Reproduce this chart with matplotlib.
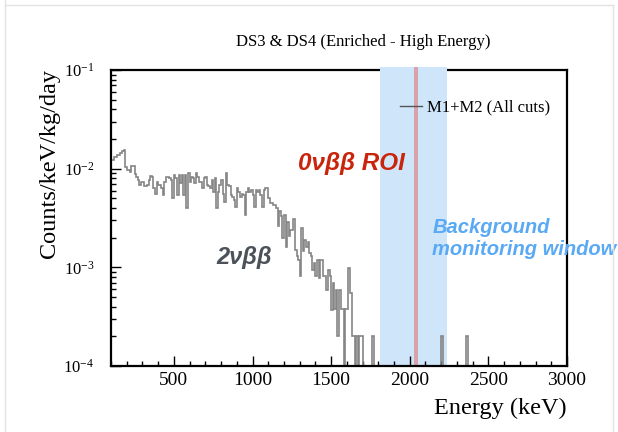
import numpy as np
import matplotlib
matplotlib.use("Agg")
import matplotlib.pyplot as plt
from matplotlib.patches import Rectangle
from matplotlib.ticker import MultipleLocator, LogLocator

plt.rcParams['font.family'] = ['Liberation Serif', 'DejaVu Serif']
plt.rcParams['mathtext.fontset'] = 'custom'
plt.rcParams['mathtext.rm'] = 'Liberation Serif'

# --- data (counts/keV/kg/day in 10 keV bins) ---------------------------------
bin_width = 10
e_min, e_max = 100, 3000

# 100 - 1100 keV
rate_low = [
    1.23e-2, 1.22e-2, 1.32e-2, 1.30e-2, 1.38e-2, 1.36e-2, 1.43e-2, 1.50e-2, 1.55e-2, 1.05e-2,
    9.7e-3, 9.8e-3, 9.3e-3, 1.07e-2, 1.06e-2, 8.8e-3, 8.3e-3, 7.7e-3, 6.8e-3, 7.4e-3,
    7.3e-3, 6.7e-3, 6.7e-3, 6.9e-3, 7.6e-3, 8.5e-3, 8.3e-3, 6.3e-3, 5.6e-3, 7.4e-3,
    6.8e-3, 6.8e-3, 6.3e-3, 5.4e-3, 7.4e-3, 8.3e-3, 8.2e-3, 8.1e-3, 7.7e-3, 5.0e-3,
    8.6e-3, 8.0e-3, 5.4e-3, 8.6e-3, 7.1e-3, 8.6e-3, 5.4e-3, 8.6e-3, 4.0e-3, 9.0e-3,
    7.4e-3, 8.3e-3, 8.0e-3, 7.1e-3, 9.0e-3, 8.3e-3, 7.4e-3, 7.4e-3, 6.3e-3, 8.0e-3,
    8.3e-3, 6.8e-3, 6.6e-3, 6.3e-3, 7.7e-3, 5.8e-3, 8.0e-3, 4.0e-3, 5.8e-3, 6.8e-3,
    7.7e-3, 5.6e-3, 4.6e-3, 9.0e-3, 6.8e-3, 6.6e-3, 5.4e-3, 5.2e-3, 4.8e-3, 4.1e-3,
    6.3e-3, 5.8e-3, 5.2e-3, 5.6e-3, 5.4e-3, 3.4e-3, 5.8e-3, 6.3e-3, 5.8e-3, 6.1e-3,
    5.4e-3, 4.1e-3, 6.1e-3, 5.8e-3, 6.1e-3, 5.4e-3, 4.1e-3, 6.1e-3, 6.3e-3, 6.3e-3,
]

# 1100 - 1770 keV
rate_high = [
    5.0e-3, 4.5e-3, 4.5e-3, 4.3e-3, 4.3e-3, 4.0e-3, 2.6e-3, 3.7e-3, 3.3e-3, 1.96e-3,
    3.4e-3, 1.62e-3, 2.9e-3, 2.1e-3, 2.4e-3, 2.4e-3, 3.1e-3, 1.5e-3, 1.29e-3, 1.19e-3,
    8.1e-4, 2.5e-3, 1.45e-3, 1.9e-3, 1.62e-3, 1.8e-3, 1.39e-3, 1.29e-3, 9.4e-4, 1.1e-3,
    8.1e-4, 1.19e-3, 7.8e-4, 1.19e-3, 1.19e-3, 8.1e-4, 8.1e-4, 5.9e-4, 9.4e-4, 8.1e-4,
    3.7e-4, 6.9e-4, 3.8e-4, 5.9e-4, 2.0e-4, 5.9e-4, 3.8e-4, 3.8e-4, 0, 3.8e-4,
    3.8e-4, 9.8e-4, 5.5e-4, 2.0e-4, 2.0e-4, 0, 2.0e-4, 0, 2.0e-4, 2.0e-4,
    0, 0, 0, 0, 0, 0, 2.0e-4,
]

# isolated events above the continuum
tail_energy = [2200, 2360]
tail_rate = [2.0e-4, 2.0e-4]

bmw_window = (1810, 2235)   # background monitoring window
roi_window = (2030, 2050)   # 0vbb ROI

# --- build histogram -------------------------------------------------------------
edges = np.arange(e_min, e_max + bin_width, bin_width)
rate = np.zeros(len(edges) - 1)
rate[:len(rate_low)] = rate_low
rate[len(rate_low):len(rate_low) + len(rate_high)] = rate_high
for e, r in zip(tail_energy, tail_rate):
    rate[(e - e_min) // bin_width] = r
rate = np.where(rate > 0, rate, 1e-6)

fig = plt.figure(figsize=(6.18, 4.32), dpi=100)
ax = fig.add_axes([111 / 618, 1 - 366 / 432, 456 / 618, 296 / 432])

ax.axvspan(*bmw_window, ymin=0.004, ymax=1, color='#cfe5fa', lw=0, zorder=0.5)
ax.axvspan(*roi_window, ymin=0.004, ymax=1, color='#d8a3a8', lw=0, zorder=0.6)
# band covers the top frame line like in the slide
for (a, b), col in [(bmw_window, '#cfe5fa'), (roi_window, '#d8a3a8')]:
    ax.add_patch(Rectangle((a, 0.99), b - a, 0.02, transform=ax.get_xaxis_transform(),
                           color=col, lw=0, clip_on=False, zorder=3))

ax.stairs(rate, edges, color='#858585', lw=1.2, baseline=None, zorder=2,
          label='M1+M2 (All cuts)')

ax.set_yscale('log')
ax.set_xlim(e_min, e_max)
ax.set_ylim(1e-4, 1e-1)

ax.xaxis.set_major_locator(MultipleLocator(500))
ax.xaxis.set_minor_locator(MultipleLocator(100))
ax.yaxis.set_major_locator(LogLocator(base=10))
ax.yaxis.set_minor_locator(LogLocator(base=10, subs=np.arange(2, 10)))
ax.tick_params(which='both', direction='in', top=False, right=False, width=1)
ax.tick_params(which='major', length=7)
ax.tick_params(which='minor', length=3.5)
ax.tick_params(axis='x', labelsize=14, pad=4)
ax.tick_params(axis='y', labelsize=12, pad=12)
for s in ax.spines.values():
    s.set_linewidth(1.6)

leg = ax.legend(loc='center left', bbox_to_anchor=(0.634, 0.872), frameon=False,
                borderpad=0, borderaxespad=0, handlelength=1.3, handletextpad=0.3,
                fontsize=12)
leg.get_lines()[0].set_color('#555555')
leg.get_lines()[0].set_linewidth(1)

sans = ['Liberation Sans', 'DejaVu Sans']
ax.text(1287, 1.14e-2, '0νββ ROI', color='#c8250c', fontsize=17.5, fontweight='bold',
        fontstyle='italic', family=sans, va='center', ha='left', zorder=4)
ax.text(773, 1.27e-3, '2νββ', color='#4b525a', fontsize=17, fontweight='bold',
        fontstyle='italic', family=sans, va='center', ha='left', zorder=4)
ax.text(2144, 1.94e-3, 'Background\nmonitoring window', color='#5aa9f5', fontsize=14.5,
        fontweight='bold', fontstyle='italic', family=sans, va='center', ha='left',
        linespacing=1.2, zorder=4, clip_on=False)

fig.text(363 / 618, 1 - 42 / 432, 'DS3 & DS4 (Enriched - High Energy)', fontsize=12,
         ha='center', va='center')
fig.text(50 / 618, 1 - 164 / 432, 'Counts/keV/kg/day', fontsize=17.5, rotation=90,
         ha='center', va='center')
fig.text(567 / 618, 1 - 408 / 432, 'Energy (keV)', fontsize=17.5, ha='right', va='center')

# faint slide border
fig.add_artist(plt.Line2D([5 / 618, 5 / 618], [0, 1], color='#e2e2e2', lw=1))
fig.add_artist(plt.Line2D([5 / 618, 613 / 618], [1 - 5 / 432, 1 - 5 / 432], color='#e2e2e2', lw=1))
fig.add_artist(plt.Line2D([613 / 618, 613 / 618], [0, 1 - 5 / 432], color='#e2e2e2', lw=1))

fig.savefig('out.png', dpi=100)
